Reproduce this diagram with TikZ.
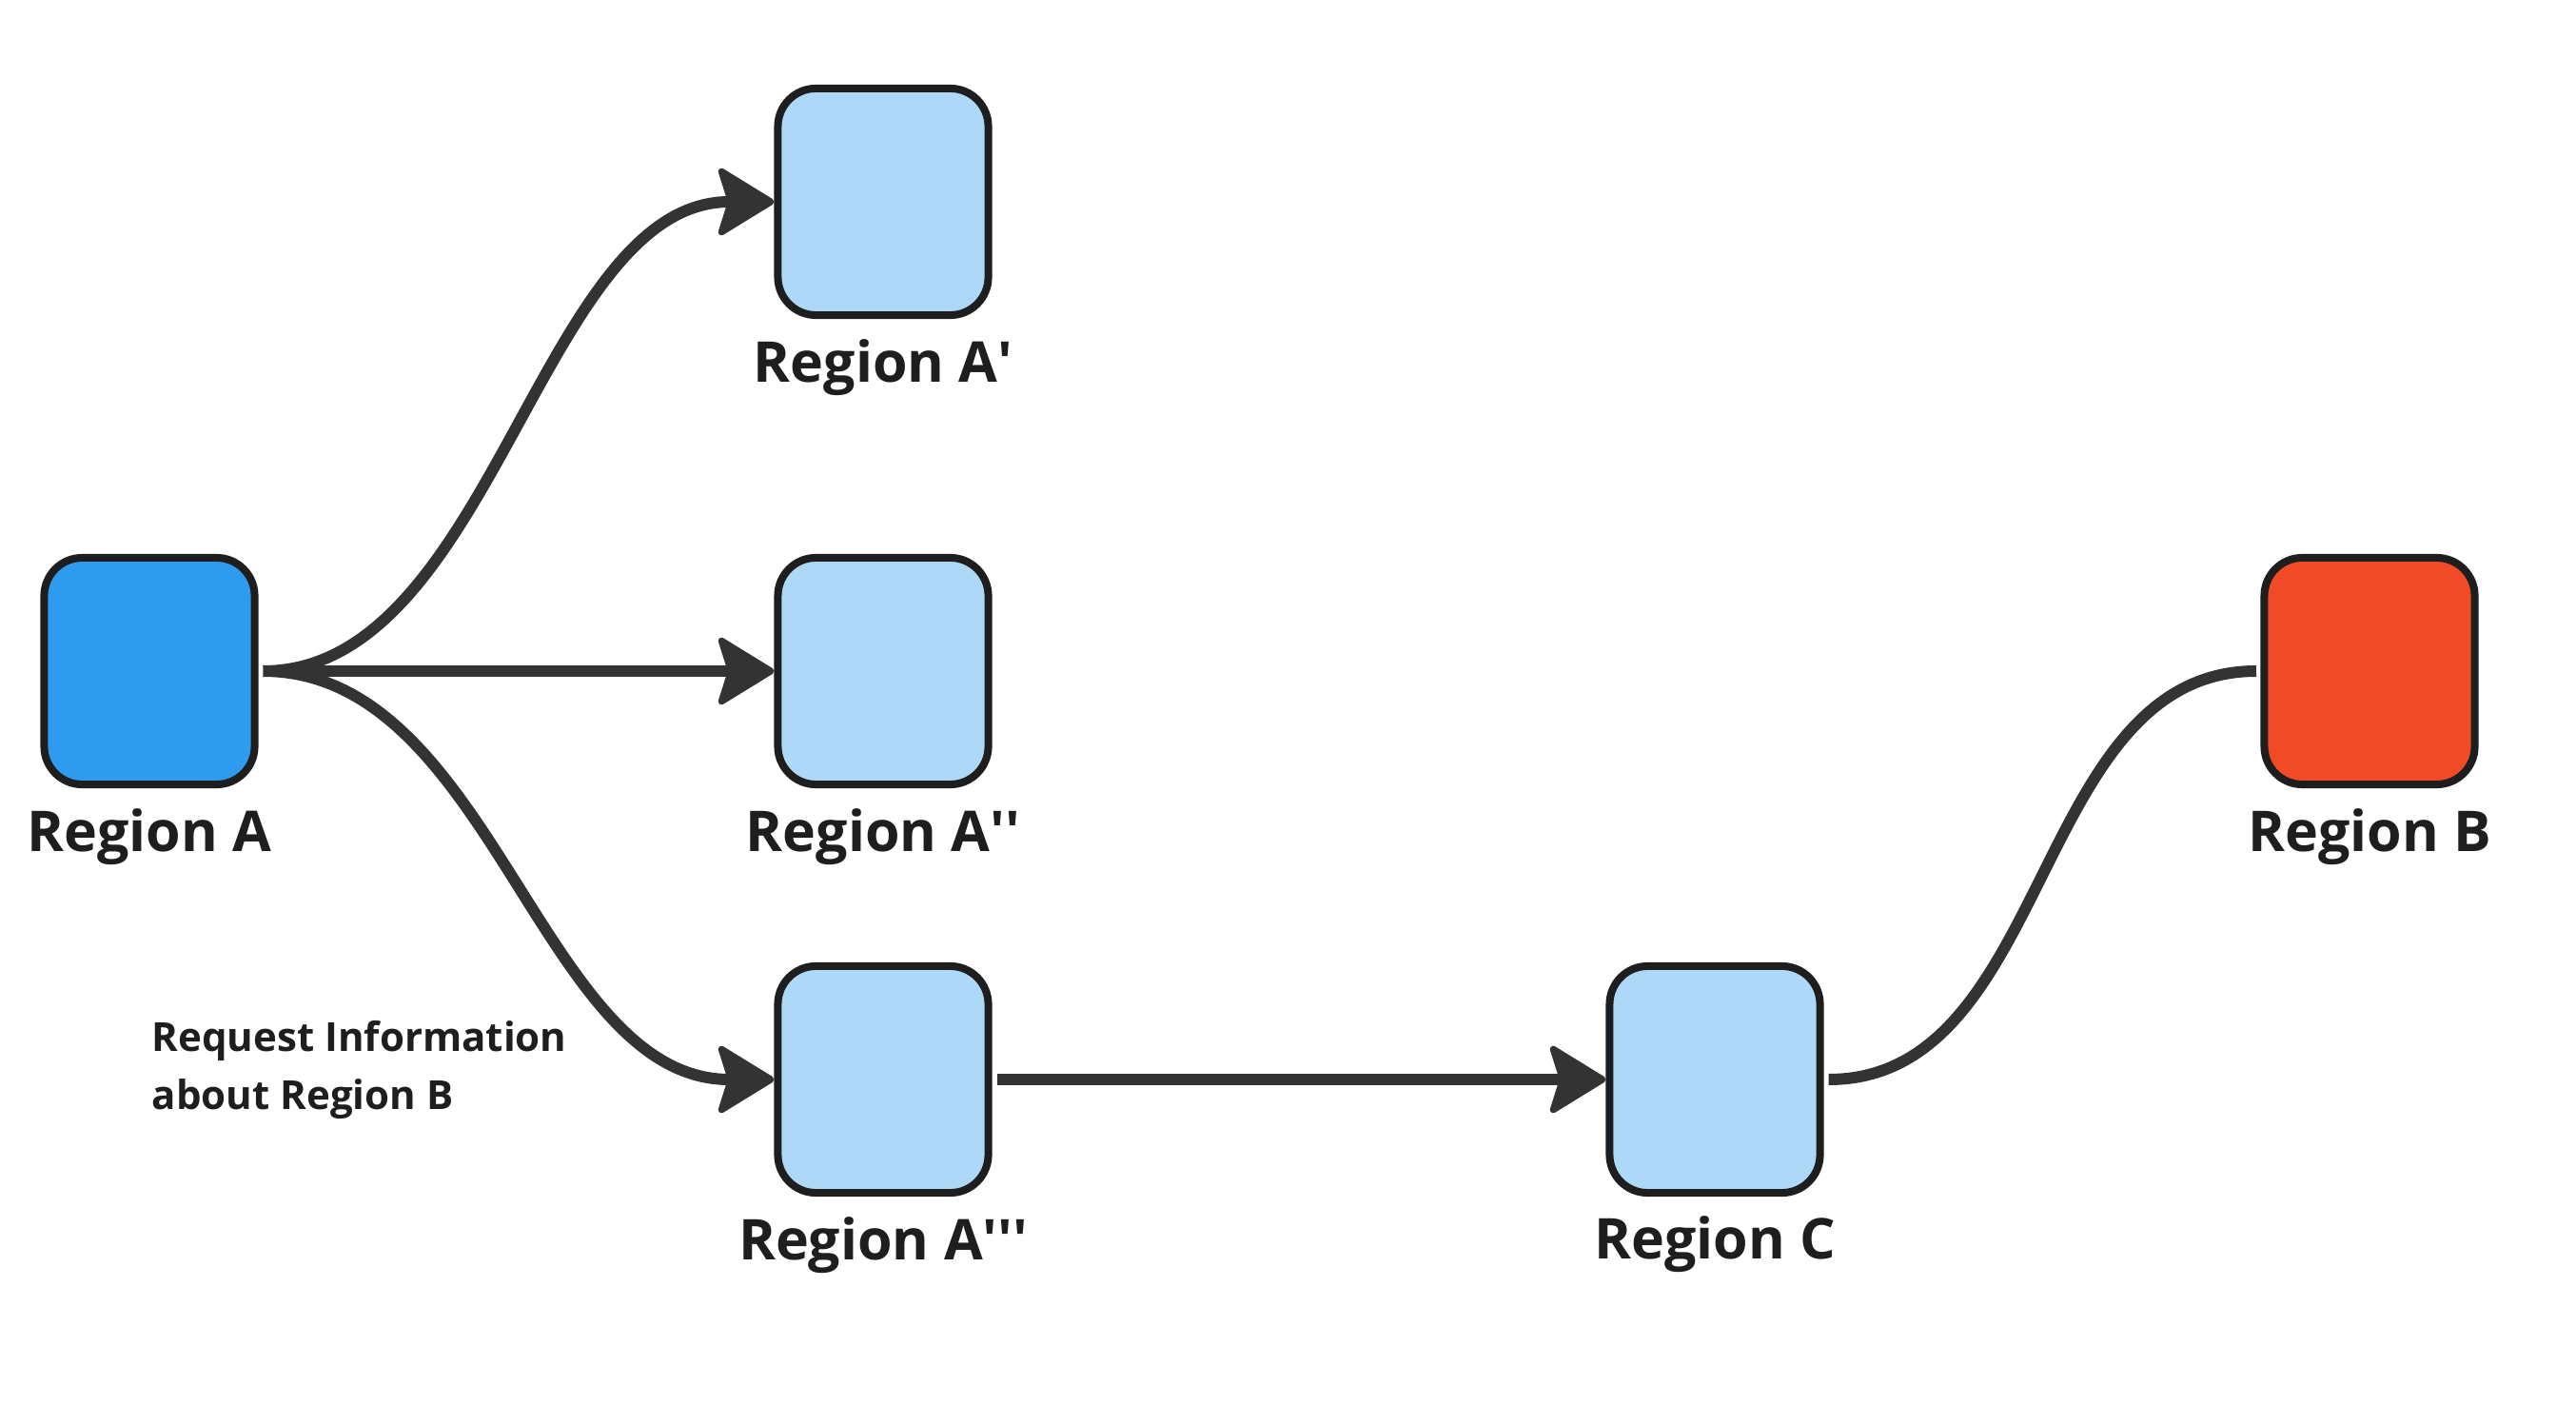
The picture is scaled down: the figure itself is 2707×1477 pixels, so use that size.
\documentclass[tikz,border=0pt]{standalone}
\usepackage{fontspec}
\setmainfont{Open Sans}
% same face, without the TeX quote mapping, for straight prime ticks
\newfontfamily\primefont{Open Sans}[Ligatures=TeXOff]
\usetikzlibrary{arrows.meta}

\definecolor{boxline}{HTML}{1E1E1E}
\definecolor{conn}{HTML}{333333}
\definecolor{srcfill}{HTML}{2E9BEF}
\definecolor{midfill}{HTML}{ADD8F7}
\definecolor{dstfill}{HTML}{F04A27}
\definecolor{txt}{HTML}{1E1E1E}

\newcommand{\pr}[1]{{\primefont\bfseries #1}}

\begin{document}
\begin{tikzpicture}[x=0.01cm, y=-0.01cm,
  region/.style={draw=boxline, line width=0.08cm, rounded corners=0.4cm,
    minimum width=2.21cm, minimum height=2.38cm, inner sep=0pt},
  title/.style={anchor=base, text=txt, font=\fontsize{16.8pt}{20pt}\selectfont\bfseries, inner sep=0pt},
  note/.style={anchor=base west, align=left, text=txt,
    font=\fontsize{11.95pt}{17.07pt}\selectfont\bfseries, inner sep=0pt},
  link/.style={draw=conn, line width=0.12cm, shorten <=0.05cm},
  arr/.style={link, -{Stealth[length=0.64cm, width=0.78cm, inset=0.12cm, round, line width=0.07cm]}}
]
  \fill[white] (0,0) rectangle (2707,1477);
  \useasboundingbox (0,0) rectangle (2707,1477);

  % region boxes
  \node[region, fill=srcfill] (ra)  at (157,705)  {};
  \node[region, fill=midfill] (ra1) at (928,212)  {};
  \node[region, fill=midfill] (ra2) at (928,705)  {};
  \node[region, fill=midfill] (ra3) at (928,1134) {};
  \node[region, fill=midfill] (rc)  at (1802,1134) {};
  \node[region, fill=dstfill] (rb)  at (2490,705) {};

  % captions
  \node[title] (la)  at (157,895)  {Region A};
  \node[title] (la1) at (928,402)  {Region A\pr{'}};
  \node[title] (la2) at (928,895)  {Region A\pr{''}};
  \node[title] (la3) at (928,1323) {Region A\pr{'''}};
  \node[title] (lc)  at (1802,1322) {Region C};
  \node[title] (lb)  at (2490,895) {Region B};

  % two-line note; its base anchor sits on the last line
  \node[note] (req) at (159,1165) {Request Information\\about Region B};

  % connectors
  \draw[arr] (ra.east) .. controls +(245,0) and +(-245,0) .. (ra1.west);
  \draw[arr] (ra.east) -- (ra2.west);
  \draw[arr] (ra.east) .. controls +(245,0) and +(-245,0) .. (ra3.west);
  \draw[arr] (ra3.east) -- (rc.west);
  \draw[link, shorten >=0.045cm] (rc.east) .. controls +(240,0) and +(-240,0) .. (rb.west);
\end{tikzpicture}
\end{document}
